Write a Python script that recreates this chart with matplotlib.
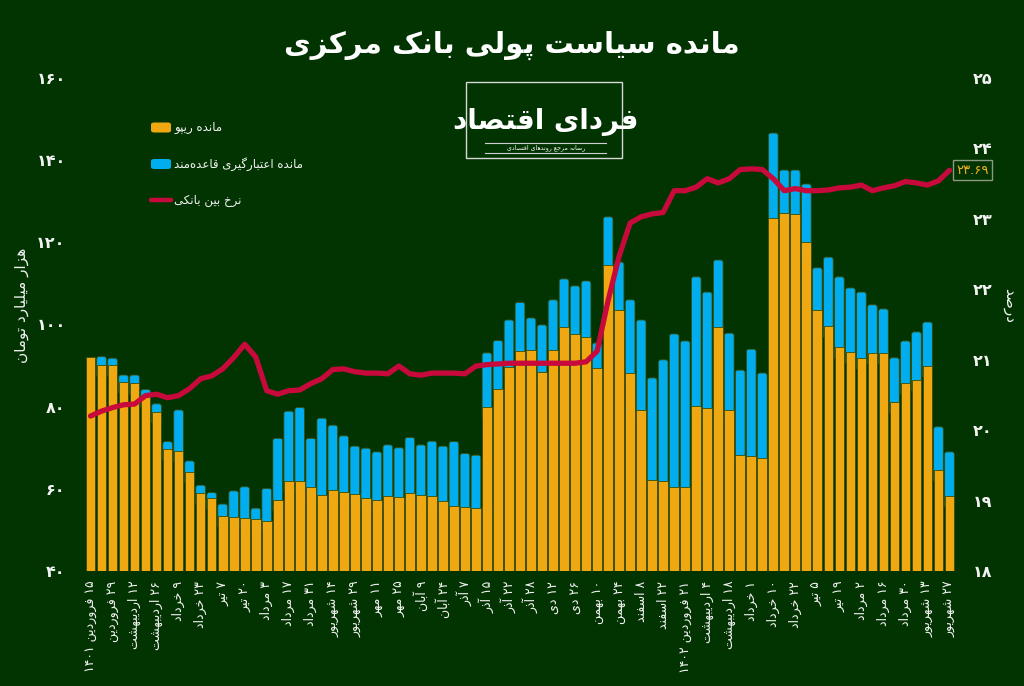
import re
import matplotlib
matplotlib.use("Agg")
import matplotlib.pyplot as plt
from matplotlib.patches import Rectangle, FancyBboxPatch
from matplotlib.lines import Line2D

plt.rcParams["font.family"] = ["DejaVu Sans"]

# weekly balances, thousand billion toman
repo = [92.2, 90.1, 90.1, 86.1, 85.7, 82.6, 78.8, 69.7, 69.2, 64.2,
        58.9, 57.7, 53.4, 53.1, 52.8, 52.6, 52.2, 57.3, 62.0, 62.0,
        60.4, 58.5, 59.7, 59.3, 58.7, 57.7, 57.4, 58.3, 58.1, 58.9,
        58.5, 58.3, 57.1, 55.8, 55.5, 55.3, 80.0, 84.3, 89.6, 93.6,
        93.8, 88.4, 93.8, 99.4, 97.7, 97.0, 89.4, 114.5, 103.5, 88.2,
        79.2, 62.2, 61.9, 60.4, 60.4, 80.2, 79.7, 99.4, 79.2, 68.2,
        68.0, 67.5, 125.9, 127.1, 126.9, 120.1, 103.5, 99.6, 94.5, 93.3,
        91.9, 93.1, 93.1, 81.1, 85.8, 86.5, 89.9, 64.6, 58.3]
credit = [0.0, 2.1, 1.7, 1.6, 2.0, 1.6, 1.9, 1.8, 10.0, 2.6,
          2.0, 1.4, 2.9, 6.4, 7.7, 2.7, 7.9, 15.0, 16.9, 17.8,
          11.9, 18.7, 15.8, 13.6, 11.7, 12.2, 11.6, 12.4, 11.9, 13.6,
          12.2, 13.3, 13.3, 15.7, 13.1, 12.9, 13.1, 11.8, 11.5, 11.8,
          7.8, 11.5, 12.2, 11.7, 11.7, 13.6, 6.1, 11.7, 11.7, 17.8,
          21.9, 24.8, 29.5, 37.3, 35.6, 31.4, 28.2, 16.3, 18.7, 20.7,
          26.0, 20.7, 20.7, 10.5, 10.7, 14.1, 10.3, 16.8, 17.1, 15.6,
          16.0, 11.7, 10.7, 10.8, 10.2, 11.7, 10.7, 10.5, 10.7]
# interbank rate, percent
rate = [20.20, 20.27, 20.32, 20.36, 20.37, 20.49, 20.51, 20.46, 20.49, 20.59,
        20.73, 20.77, 20.87, 21.03, 21.22, 21.04, 20.56, 20.51, 20.56, 20.57,
        20.66, 20.73, 20.86, 20.87, 20.83, 20.81, 20.81, 20.80, 20.91, 20.80,
        20.78, 20.81, 20.81, 20.81, 20.80, 20.91, 20.93, 20.94, 20.95, 20.95,
        20.95, 20.95, 20.95, 20.95, 20.95, 20.97, 21.12, 21.84, 22.47, 22.94,
        23.03, 23.07, 23.09, 23.40, 23.40, 23.45, 23.57, 23.51, 23.57, 23.70,
        23.71, 23.70, 23.57, 23.40, 23.43, 23.40, 23.40, 23.41, 23.44, 23.45,
        23.48, 23.40, 23.44, 23.47, 23.53, 23.51, 23.48, 23.54, 23.69]

# one label every second week
tick_labels = ["۱۵ فروردین ۱۴۰۱", "۲۹ فروردین", "۱۲ اردیبهشت", "۲۶ اردیبهشت",
               "۹ خرداد", "۲۳ خرداد", "۷ تیر", "۲۰ تیر", "۳ مرداد", "۱۷ مرداد",
               "۳۱ مرداد", "۱۴ شهریور", "۲۹ شهریور", "۱۱ مهر", "۲۵ مهر",
               "۹ آبان", "۲۴ آبان", "۷ آذر", "۱۵ آذر", "۲۲ آذر", "۲۸ آذر",
               "۱۲ دی", "۲۶ دی", "۱۰ بهمن", "۲۴ بهمن", "۸ اسفند", "۲۲ اسفند",
               "۲۱ فروردین ۱۴۰۲", "۴ اردیبهشت", "۱۸ اردیبهشت", "۱ خرداد",
               "۱۰ خرداد", "۲۲ خرداد", "۵ تیر", "۱۹ تیر", "۲ مرداد", "۱۶ مرداد",
               "۳۰ مرداد", "۱۳ شهریور", "۲۷ شهریور"]
left_ticks = [40, 60, 80, 100, 120, 140, 160]
right_ticks = [18, 19, 20, 21, 22, 23, 24, 25]

BG = "#023402"
ORANGE = "#F0A812"
BLUE = "#00AEEF"
RED = "#C8093B"
WHITE = "#F2F2F2"
EDGE = "#3a4d06"

# isolated, final, initial, medial
FORMS = {
    "ا": (0xFE8D, 0xFE8E, None, None), "آ": (0xFE81, 0xFE82, None, None),
    "ب": (0xFE8F, 0xFE90, 0xFE91, 0xFE92), "پ": (0xFB56, 0xFB57, 0xFB58, 0xFB59),
    "ت": (0xFE95, 0xFE96, 0xFE97, 0xFE98), "ث": (0xFE99, 0xFE9A, 0xFE9B, 0xFE9C),
    "ج": (0xFE9D, 0xFE9E, 0xFE9F, 0xFEA0), "چ": (0xFB7A, 0xFB7B, 0xFB7C, 0xFB7D),
    "ح": (0xFEA1, 0xFEA2, 0xFEA3, 0xFEA4), "خ": (0xFEA5, 0xFEA6, 0xFEA7, 0xFEA8),
    "د": (0xFEA9, 0xFEAA, None, None), "ذ": (0xFEAB, 0xFEAC, None, None),
    "ر": (0xFEAD, 0xFEAE, None, None), "ز": (0xFEAF, 0xFEB0, None, None),
    "ژ": (0xFB8A, 0xFB8B, None, None),
    "س": (0xFEB1, 0xFEB2, 0xFEB3, 0xFEB4), "ش": (0xFEB5, 0xFEB6, 0xFEB7, 0xFEB8),
    "ص": (0xFEB9, 0xFEBA, 0xFEBB, 0xFEBC), "ض": (0xFEBD, 0xFEBE, 0xFEBF, 0xFEC0),
    "ط": (0xFEC1, 0xFEC2, 0xFEC3, 0xFEC4), "ظ": (0xFEC5, 0xFEC6, 0xFEC7, 0xFEC8),
    "ع": (0xFEC9, 0xFECA, 0xFECB, 0xFECC), "غ": (0xFECD, 0xFECE, 0xFECF, 0xFED0),
    "ف": (0xFED1, 0xFED2, 0xFED3, 0xFED4), "ق": (0xFED5, 0xFED6, 0xFED7, 0xFED8),
    "ک": (0xFB8E, 0xFB8F, 0xFB90, 0xFB91), "گ": (0xFB92, 0xFB93, 0xFB94, 0xFB95),
    "ل": (0xFEDD, 0xFEDE, 0xFEDF, 0xFEE0), "م": (0xFEE1, 0xFEE2, 0xFEE3, 0xFEE4),
    "ن": (0xFEE5, 0xFEE6, 0xFEE7, 0xFEE8), "و": (0xFEED, 0xFEEE, None, None),
    "ه": (0xFEE9, 0xFEEA, 0xFEEB, 0xFEEC), "ی": (0xFBFC, 0xFBFD, 0xFBFE, 0xFBFF),
}


def fa(text):
    # join letters and put them in visual (left to right) order
    chars = list(str(text).translate(str.maketrans("0123456789", "۰۱۲۳۴۵۶۷۸۹")))
    out = []
    for k, c in enumerate(chars):
        if c not in FORMS:
            if c != "\u200c":
                out.append(c)
            continue
        prev = chars[k - 1] if k > 0 else ""
        nxt = chars[k + 1] if k + 1 < len(chars) else ""
        right = prev in FORMS and FORMS[prev][2] is not None
        left = FORMS[c][2] is not None and nxt in FORMS
        iso, fin, ini, med = FORMS[c]
        g = med if (right and left) else fin if right else ini if left else iso
        out.append(chr(g))
    s = "".join(out)[::-1]
    return re.sub(r"[0-9۰-۹.]+", lambda m: m.group(0)[::-1], s)


def px(x, y):
    return x / 1024, 1 - y / 686


fig = plt.figure(figsize=(10.24, 6.86), dpi=100, facecolor=BG)
ax = fig.add_axes([85 / 1024, 1 - 571 / 686, 870 / 1024, 493 / 686])
ax.set_facecolor(BG)
ax2 = ax.twinx()

x = list(range(len(repo)))
ax.bar(x, repo, width=0.88, color=ORANGE, edgecolor=EDGE, linewidth=0.6, zorder=2)
blue = ax.bar(x, credit, bottom=repo, width=0.88, color=BLUE, edgecolor=EDGE, linewidth=0.6, zorder=1.9)

# rounded tops on the blue segments (tucked under the orange part)
asp = (120 / 493) / (79 / 870)
for r in blue.patches:
    if r.get_height() <= 0:
        r.set_visible(False)
        continue
    r.set_visible(False)
    ax.add_patch(FancyBboxPatch((r.get_x(), r.get_y() - 3), r.get_width(), r.get_height() + 3,
                                boxstyle="round,pad=0,rounding_size=0.22", mutation_aspect=asp,
                                fc=BLUE, ec=EDGE, lw=0.6, zorder=1.9))

ax2.plot(x, rate, color=RED, lw=3.8, solid_capstyle="round", solid_joinstyle="round", zorder=3)

ax.set_xlim(-0.5, len(repo) - 0.5)
ax.set_ylim(40, 160)
ax2.set_ylim(18, 25)

ax.set_xticks(x[::2])
ax.set_xticklabels([fa(t) for t in tick_labels], rotation=90, fontsize=9, color=WHITE)
ax.set_yticks(left_ticks)
ax.set_yticklabels([fa(t) for t in left_ticks], fontsize=11.5, fontweight="bold", color=WHITE)
ax2.set_yticks(right_ticks)
ax2.set_yticklabels([fa(t) for t in right_ticks], fontsize=11.5, fontweight="bold", color=WHITE)
ax.tick_params(axis="x", length=0, pad=7)
ax.tick_params(axis="y", length=0, pad=14)
ax2.tick_params(axis="y", length=0, pad=13)
for a in (ax, ax2):
    for sp in a.spines.values():
        sp.set_visible(False)

# last value of the rate
ax2.annotate(fa("23.69"), xy=(x[-1], rate[-1]), xytext=(5, 0), textcoords="offset points",
             ha="left", va="center", fontsize=9.5, color="#F0B020",
             bbox=dict(boxstyle="square,pad=0.25", fc=BG, ec="#8a9a80", lw=1))

fig.text(*px(512, 45), fa("مانده سیاست پولی بانک مرکزی"), ha="center", va="center",
         fontsize=21, fontweight="bold", color="white")
fig.text(*px(22, 305), fa("هزار میلیارد تومان"), ha="center", va="center",
         rotation=90, fontsize=11, color=WHITE)
fig.text(*px(1010, 305), fa("درصد"), ha="center", va="center",
         rotation=-90, fontsize=11, color=WHITE)

# legend
for yy, col, lab in [(127.5, ORANGE, "مانده ریپو"), (164, BLUE, "مانده اعتبارگیری قاعده‌مند")]:
    fig.patches.append(FancyBboxPatch(px(151, yy + 5), 20 / 1024, 10 / 686,
                                      boxstyle="round,pad=0,rounding_size=0.003",
                                      transform=fig.transFigure, fc=col, ec="none"))
    fig.text(*px(174, yy), fa(lab), ha="left", va="center", fontsize=8.5, color=WHITE)
fig.lines.append(Line2D([151 / 1024, 171 / 1024], [1 - 200 / 686] * 2, transform=fig.transFigure,
                        color=RED, lw=3.2, solid_capstyle="round"))
fig.text(*px(174, 200), fa("نرخ بین بانکی"), ha="left", va="center", fontsize=8.5, color=WHITE)

# logo box
fig.patches.append(Rectangle(px(466, 158), 156 / 1024, 76 / 686, transform=fig.transFigure,
                             fc="none", ec="#d8d8d8", lw=1))
fig.text(*px(546, 122), fa("فردای اقتصاد"), ha="center", va="center",
         fontsize=20, fontweight="bold", color="white")
for yy in (143, 153):
    fig.lines.append(Line2D([485 / 1024, 606 / 1024], [1 - yy / 686] * 2, transform=fig.transFigure,
                            color="#cfcfcf", lw=0.8))
fig.text(*px(546, 148), fa("رسانه مرجع روندهای اقتصادی"), ha="center", va="center",
         fontsize=4.5, color="white")

fig.savefig("out.png", dpi=100, facecolor=BG)
